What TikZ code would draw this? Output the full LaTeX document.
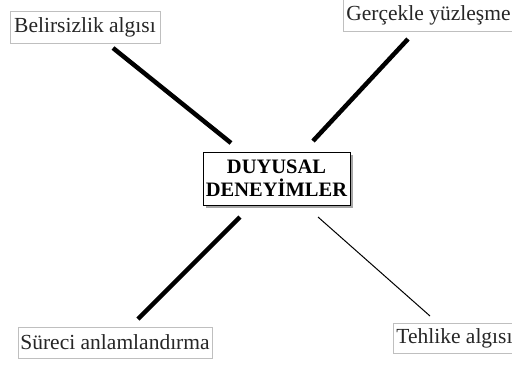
\documentclass[tikz,border=0pt]{standalone}
\usepackage{fontspec}
\setmainfont{Liberation Serif}
\begin{document}
\begin{tikzpicture}[x=1pt,y=-1pt,
  leaf/.style={draw=black!25, line width=0.8pt, fill=white, inner sep=0pt, font=\fontsize{21.5}{24}\selectfont, text=black!85},
  hub/.style={draw=black, line width=1pt, fill=white, inner sep=0pt, font=\bfseries\fontsize{20.5}{23}\selectfont, align=center},
  thick line/.style={line width=4.5pt},
  thin line/.style={line width=1pt}]
\useasboundingbox (0,0) rectangle (512,365);
% shadow of hub
\fill[black!35] (206,155) rectangle (353,208);
\node[hub, minimum width=147pt, minimum height=53pt] (hub) at (276.5,178.5) {DUYUSAL\\DENEYİMLER};
\node[leaf, minimum width=150pt, minimum height=32pt] (b) at (85,27) {Belirsizlik algısı};
\node[leaf, minimum height=32pt, anchor=north west, inner xsep=3pt] (g) at (343,-1) {Gerçekle yüzleşme\hspace*{12pt}};
\node[leaf, minimum width=194pt, minimum height=31pt] (s) at (115,342.5) {Süreci anlamlandırma};
\node[leaf, minimum height=30pt, anchor=north west, inner xsep=3pt] (t) at (393,323) {Tehlike algısı\hspace*{10pt}};
\coordinate (b1) at (113,48); \coordinate (b2) at (231,143);
\coordinate (g1) at (408,39); \coordinate (g2) at (313,141);
\coordinate (s1) at (240,217); \coordinate (s2) at (138,319);
\coordinate (t1) at (318,217); \coordinate (t2) at (430,316);
\draw[thick line] (b1) -- (b2);
\draw[thick line] (g1) -- (g2);
\draw[thick line] (s1) -- (s2);
\draw[thin line] (t1) -- (t2);
\end{tikzpicture}
\end{document}
